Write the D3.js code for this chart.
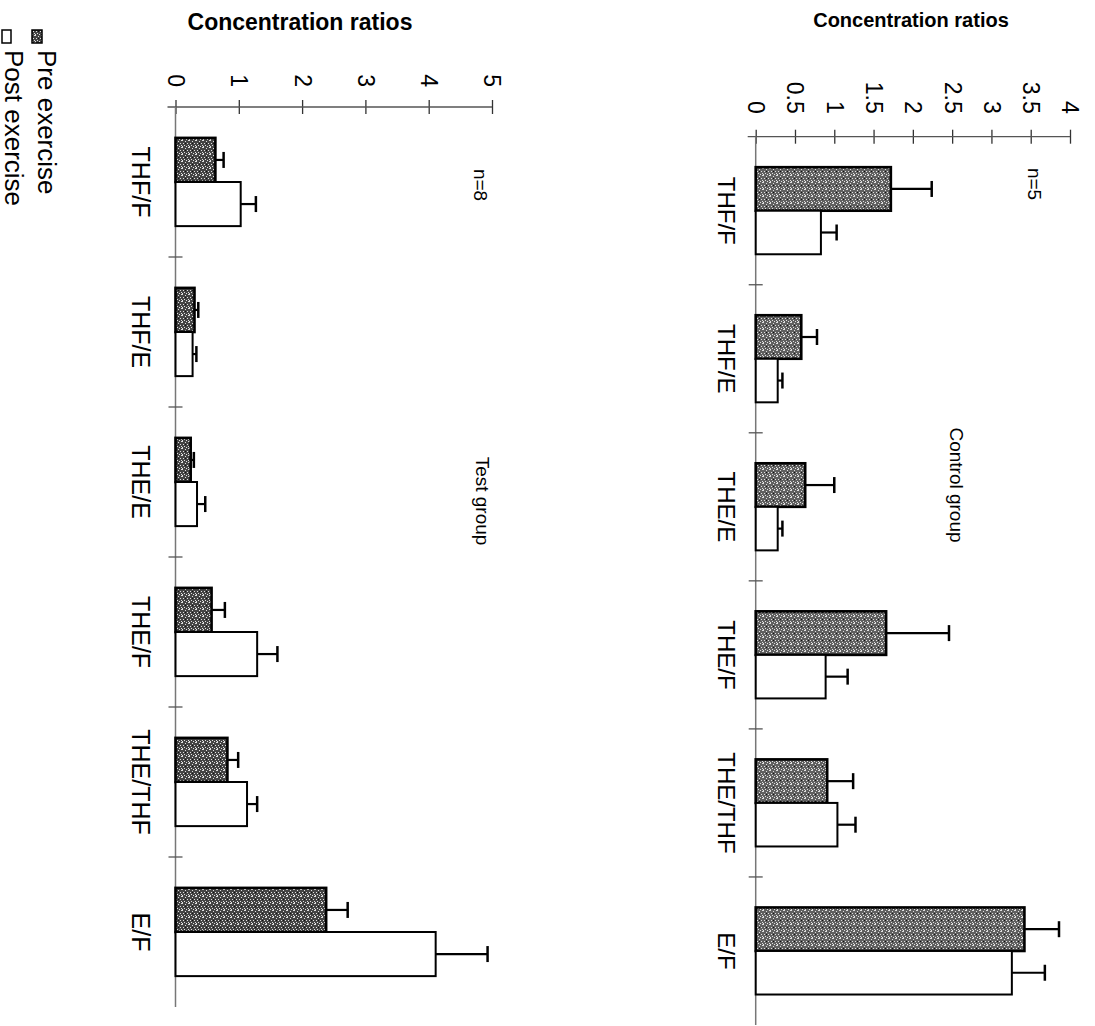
<!DOCTYPE html>
<html>
<head>
<meta charset="utf-8">
<script src="https://cdn.jsdelivr.net/npm/d3@7"></script>
<style>
  body { margin: 0; background: #fff; }
  svg { display: block; font-family: "Liberation Sans", Arial, sans-serif; }
</style>
</head>
<body>
<svg id="chart" width="1095" height="1026"></svg>
<script>
// Ratios per category (chart is printed rotated 90° clockwise)
const categories = ["THF/F", "THF/E", "THE/E", "THE/F", "THE/THF", "E/F"];

// Test group (n=8)
const testPre      = [0.63, 0.30, 0.24, 0.57, 0.82, 2.38];
const testPreErr   = [0.13, 0.06, 0.05, 0.21, 0.17, 0.34];
const testPost     = [1.03, 0.27, 0.34, 1.29, 1.13, 4.11];
const testPostErr  = [0.24, 0.06, 0.13, 0.32, 0.16, 0.82];
const testTicks    = [0, 1, 2, 3, 4, 5];

// Control group (n=5)
const controlPre     = [1.72, 0.58, 0.63, 1.66, 0.91, 3.42];
const controlPreErr  = [0.52, 0.20, 0.37, 0.80, 0.33, 0.44];
const controlPost    = [0.83, 0.28, 0.28, 0.89, 1.04, 3.26];
const controlPostErr = [0.20, 0.06, 0.06, 0.28, 0.23, 0.42];
const controlTicks   = [0, 0.5, 1, 1.5, 2, 2.5, 3, 3.5, 4];

const svg = d3.select("#chart");

// -----------------------------
// speckled fills for the "pre" bars
// -----------------------------
const defs = svg.append("defs");
const dots = [[0, 0], [3, 1], [6, 0], [1, 3], [5, 3], [2, 5], [4, 6], [6, 5], [0, 6]];
function speckle(id, base) {
  const p = defs.append("pattern")
    .attr("id", id)
    .attr("patternUnits", "userSpaceOnUse")
    .attr("width", 7).attr("height", 7);
  p.append("rect").attr("width", 7).attr("height", 7).attr("fill", base);
  dots.forEach(([x, y]) => {
    p.append("rect").attr("x", x).attr("y", y).attr("width", 1).attr("height", 1).attr("fill", "#e0e0e0");
  });
  p.append("rect").attr("x", 3).attr("y", 3).attr("width", 1).attr("height", 1).attr("fill", "#111");
}
speckle("speckDark", "#444");
speckle("speckMid", "#606060");

// -----------------------------
// one rotated panel
// -----------------------------
function drawPanel(opt) {
  const x = d3.scaleLinear().domain(opt.domain).range(opt.xRange);
  const y = d3.scaleBand().domain(categories).range(opt.yRange).padding(0);
  const sub = d3.scaleBand().domain(["pre", "post"]).range([0, y.bandwidth()]).paddingOuter(0.7);
  const g = svg.append("g");
  const axisY = opt.yRange[0];

  // title
  g.append("text")
    .attr("x", opt.titleX).attr("y", opt.titleY)
    .attr("text-anchor", "middle")
    .style("font-weight", "bold")
    .style("font-size", opt.titleSize + "px")
    .text("Concentration ratios");

  // value axis along the top
  const ax = g.append("g")
    .attr("transform", `translate(0,${axisY})`)
    .call(d3.axisTop(x).tickValues(opt.ticks).tickSizeOuter(0).tickFormat(d3.format("")));
  ax.select(".domain").remove();
  ax.selectAll(".tick line").attr("y1", 7).attr("y2", -7).attr("stroke", "#333").attr("stroke-width", 1.3);
  ax.selectAll(".tick text")
    .attr("x", null).attr("y", null).attr("dy", "0.35em")
    .attr("transform", `translate(0,${-opt.labelGap}) rotate(90)`)
    .attr("text-anchor", "end")
    .style("font-size", "23px")
    .attr("fill", "#000");
  g.append("line")
    .attr("x1", x(0) - 8).attr("x2", x(opt.domain[1]))
    .attr("y1", axisY).attr("y2", axisY)
    .attr("stroke", "#555").attr("stroke-width", 1.3);

  // category axis
  g.append("line")
    .attr("x1", x(0)).attr("x2", x(0))
    .attr("y1", axisY).attr("y2", opt.yRange[1])
    .attr("stroke", "#777").attr("stroke-width", 1.5);
  g.selectAll(".ctick")
    .data(categories.slice(1))
    .enter().append("line")
    .attr("x1", x(0) - 7).attr("x2", x(0) + 7)
    .attr("y1", d => y(d)).attr("y2", d => y(d))
    .attr("stroke", "#555").attr("stroke-width", 1.3);

  g.selectAll(".clabel")
    .data(categories)
    .enter().append("text")
    .attr("transform", d => `translate(${opt.catX},${y(d) + y.bandwidth() / 2}) rotate(90)`)
    .attr("text-anchor", "middle")
    .style("font-size", opt.catSize + "px")
    .text(d => d);

  // bars
  const rows = categories.map((c, i) => [
    { cat: c, key: "pre", v: opt.pre[i], e: opt.preErr[i] },
    { cat: c, key: "post", v: opt.post[i], e: opt.postErr[i] }
  ]).flat();

  g.selectAll(".bar")
    .data(rows)
    .enter().append("rect")
    .attr("x", x(0))
    .attr("y", d => y(d.cat) + sub(d.key))
    .attr("width", d => x(d.v) - x(0))
    .attr("height", sub.bandwidth())
    .attr("fill", d => d.key === "pre" ? `url(#${opt.fill})` : "#fff")
    .attr("stroke", "#000")
    .attr("stroke-width", d => d.key === "pre" ? 2.6 : 2);

  // error bars
  const eb = g.selectAll(".err").data(rows).enter().append("g");
  eb.append("line")
    .attr("x1", d => x(d.v)).attr("x2", d => x(d.v + d.e))
    .attr("y1", d => y(d.cat) + sub(d.key) + sub.bandwidth() / 2)
    .attr("y2", d => y(d.cat) + sub(d.key) + sub.bandwidth() / 2)
    .attr("stroke", "#000").attr("stroke-width", 2.2);
  eb.append("line")
    .attr("x1", d => x(d.v + d.e)).attr("x2", d => x(d.v + d.e))
    .attr("y1", d => y(d.cat) + sub(d.key) + sub.bandwidth() / 2 - 8)
    .attr("y2", d => y(d.cat) + sub(d.key) + sub.bandwidth() / 2 + 8)
    .attr("stroke", "#000").attr("stroke-width", 2.5);

  // n and group notes
  g.append("text")
    .attr("transform", `translate(${opt.noteX},${opt.nY}) rotate(90)`)
    .attr("text-anchor", "middle")
    .style("font-size", "19px")
    .text(opt.n);
  g.append("text")
    .attr("transform", `translate(${opt.noteX + opt.groupShift},${opt.groupY}) rotate(90)`)
    .attr("text-anchor", "middle")
    .style("font-size", "19px")
    .text(opt.group);
}

drawPanel({
  domain: [0, 5], ticks: testTicks,
  xRange: [175.5, 492], yRange: [107, 1007],
  pre: testPre, preErr: testPreErr, post: testPost, postErr: testPostErr,
  fill: "speckDark",
  titleX: 300, titleY: 30, titleSize: 23, labelGap: 20,
  catX: 132, catSize: 25,
  noteX: 474, nY: 185, n: "n=8",
  groupShift: 2, groupY: 501, group: "Test group"
});

drawPanel({
  domain: [0, 4], ticks: controlTicks,
  xRange: [755.7, 1070], yRange: [136.7, 1025],
  pre: controlPre, preErr: controlPreErr, post: controlPost, postErr: controlPostErr,
  fill: "speckMid",
  titleX: 911, titleY: 27, titleSize: 20, labelGap: 23,
  catX: 718, catSize: 24,
  noteX: 1028, nY: 184, n: "n=5",
  groupShift: -78, groupY: 485, group: "Control group"
});

// -----------------------------
// legend (rotated, top-left)
// -----------------------------
const legend = svg.append("g");
legend.append("rect").attr("x", 32).attr("y", 30).attr("width", 10).attr("height", 13)
  .attr("fill", "url(#speckDark)").attr("stroke", "#000").attr("stroke-width", 1.5);
legend.append("rect").attr("x", 2).attr("y", 30).attr("width", 9).attr("height", 13)
  .attr("fill", "#fff").attr("stroke", "#000").attr("stroke-width", 1.5);
legend.append("text")
  .attr("transform", "translate(38,50) rotate(90)")
  .style("font-size", "26px")
  .text("Pre exercise");
legend.append("text")
  .attr("transform", "translate(5,50) rotate(90)")
  .style("font-size", "26px")
  .text("Post exercise");
</script>
</body>
</html>
